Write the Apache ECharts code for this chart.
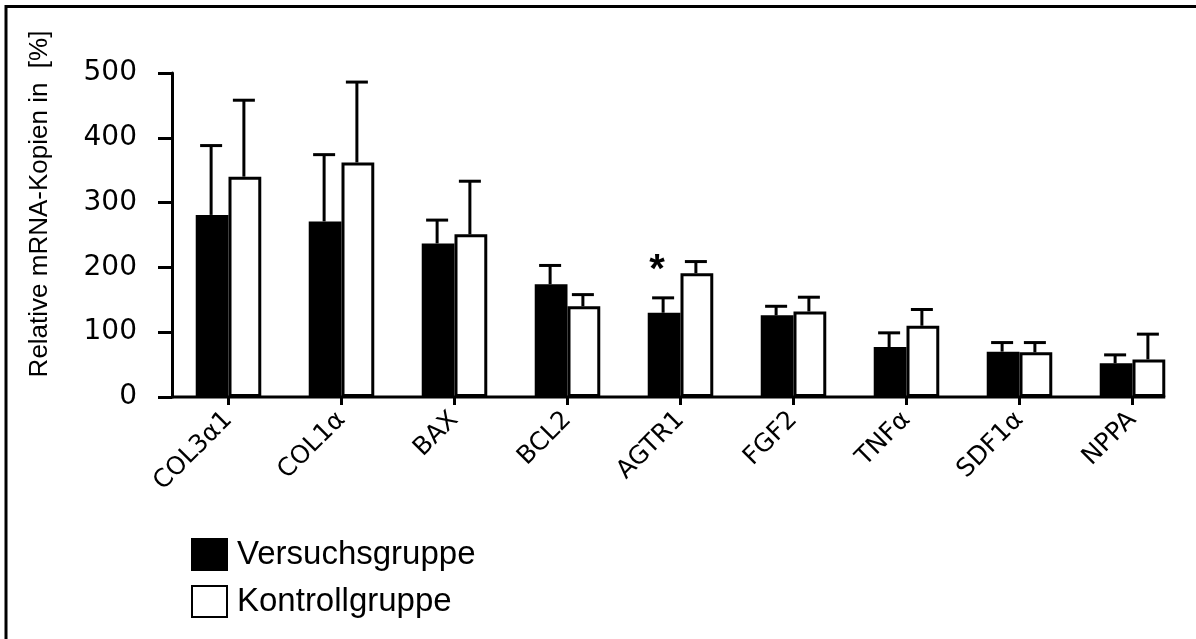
<!DOCTYPE html>
<html>
<head>
<meta charset="utf-8">
<script src="https://cdn.jsdelivr.net/npm/echarts@6/dist/echarts.min.js"></script>
<style>
html,body{margin:0;padding:0;background:#fff;}
#chart{width:1196px;height:639px;}
</style>
</head>
<body>
<div id="chart"></div>
<script>
const categories = ['COL3α1', 'COL1α', 'BAX', 'BCL2', 'AGTR1', 'FGF2', 'TNFα', 'SDF1α', 'NPPA'];
const versuch = [281, 271, 237, 174, 130, 126, 77, 70, 52];
const versuchSD = [107, 103, 36, 29, 23, 14, 22, 14, 13];
const kontroll = [340, 362, 251, 140, 191, 132, 110, 69, 58];
const kontrollSD = [118, 124, 82, 18, 18, 22, 25, 15, 39];
const significance = ['', '', '', '', '*', '', '', '', ''];
const yTicks = [0, 100, 200, 300, 400, 500];
const seriesNames = ['Versuchsgruppe', 'Kontrollgruppe'];

const FONT = '"Liberation Sans", Arial, sans-serif';
const WIDE = '"DejaVu Sans", sans-serif';
const BAR_FRAC = 0.29;

function errData(vals, sds) {
  return vals.map((v, i) => [i, v, v + sds[i], significance[i]]);
}

function makeErrRender(side, withSig) {
  return function (params, api) {
    const i = api.value(0);
    const band = api.size([1, 0])[0];
    const off = side * band * BAR_FRAC / 2;
    const base = api.coord([i, api.value(1)]);
    const top = api.coord([i, api.value(2)]);
    const x = base[0] + off - 1;
    const children = [
      { type: 'line', shape: { x1: x, y1: base[1], x2: x, y2: top[1] }, style: { stroke: '#000', lineWidth: 3 } },
      { type: 'line', shape: { x1: x - 11, y1: top[1], x2: x + 11, y2: top[1] }, style: { stroke: '#000', lineWidth: 3 } }
    ];
    const sig = withSig ? significance[i] : '';
    if (sig) {
      children.push({
        type: 'text',
        style: { text: sig, x: x - 6, y: top[1] - 27, fill: '#000', font: 'bold 40px ' + FONT, textAlign: 'center', textVerticalAlign: 'middle' }
      });
    }
    return { type: 'group', children: children };
  };
}

const chart = echarts.init(document.getElementById('chart'), null, { renderer: 'canvas' });
const option = {
  backgroundColor: '#fff',
  animation: false,
  grid: { left: 172, right: 7, top: 73, bottom: 242, containLabel: false },
  legend: {
    data: seriesNames,
    orient: 'vertical',
    left: 186,
    top: 533,
    icon: 'rect',
    itemWidth: 35,
    itemHeight: 31,
    itemGap: 14,
    textStyle: { fontFamily: FONT, fontSize: 33, color: '#000', padding: [0, 0, 0, 5] }
  },
  xAxis: {
    type: 'category',
    data: categories,
    axisLine: { show: false },
    axisTick: { show: true, alignWithLabel: true, length: 8, lineStyle: { color: '#000', width: 3 } },
    axisLabel: { rotate: 45, margin: 19, fontFamily: WIDE, fontSize: 25, color: '#000', interval: 0 },
    splitLine: { show: false }
  },
  yAxis: {
    type: 'value',
    min: 0,
    max: 500,
    interval: 100,
    axisLine: { show: true, lineStyle: { color: '#000', width: 3 } },
    axisTick: { show: true, length: 14, lineStyle: { color: '#000', width: 3 } },
    axisLabel: { margin: 35, fontFamily: WIDE, fontSize: 28, color: '#000',
      formatter: v => yTicks.indexOf(v) >= 0 ? String(v) : '' },
    splitLine: { show: false }
  },
  series: [
    {
      name: seriesNames[0], type: 'bar', data: versuch,
      barWidth: (BAR_FRAC * 100) + '%', barGap: '0%',
      itemStyle: { color: '#000', borderColor: '#000', borderWidth: 3 }
    },
    {
      name: seriesNames[1], type: 'bar', data: kontroll,
      barWidth: (BAR_FRAC * 100) + '%', barGap: '0%',
      itemStyle: { color: '#fff', borderColor: '#000', borderWidth: 3 }
    },
    {
      type: 'custom', name: 'err1', data: errData(versuch, versuchSD),
      renderItem: makeErrRender(-1, true), encode: { x: 0, y: [1, 2] }, z: 5, silent: true
    },
    {
      type: 'custom', name: 'err2', data: errData(kontroll, kontrollSD),
      renderItem: makeErrRender(1, false), encode: { x: 0, y: [1, 2] }, z: 5, silent: true
    }
  ]
};
chart.setOption(option);

// frame, y-axis title and baseline (computed from the axis scales)
const p0 = chart.convertToPixel({ gridIndex: 0 }, [0, 0]);
const pN = chart.convertToPixel({ gridIndex: 0 }, [categories.length - 1, 0]);
const band = chart.convertToPixel({ gridIndex: 0 }, [1, 0])[0] - p0[0];
const baseRight = pN[0] + band * BAR_FRAC;
const baseLeft = 172;
chart.setOption({
  graphic: [
    { type: 'line', shape: { x1: 5, y1: 6.5, x2: 1196, y2: 6.5 }, style: { stroke: '#000', lineWidth: 3 } },
    { type: 'line', shape: { x1: 6, y1: 5, x2: 6, y2: 639 }, style: { stroke: '#000', lineWidth: 3 } },
    { type: 'line', z: 10, shape: { x1: baseLeft, y1: p0[1], x2: baseRight, y2: p0[1] }, style: { stroke: '#000', lineWidth: 3 } },
    {
      type: 'text', x: 40, y: 204, rotation: Math.PI / 2,
      style: { text: 'Relative mRNA-Kopien in  [%]', font: '26px ' + FONT, fill: '#000', textAlign: 'center', textVerticalAlign: 'middle' }
    }
  ]
});
</script>
</body>
</html>
